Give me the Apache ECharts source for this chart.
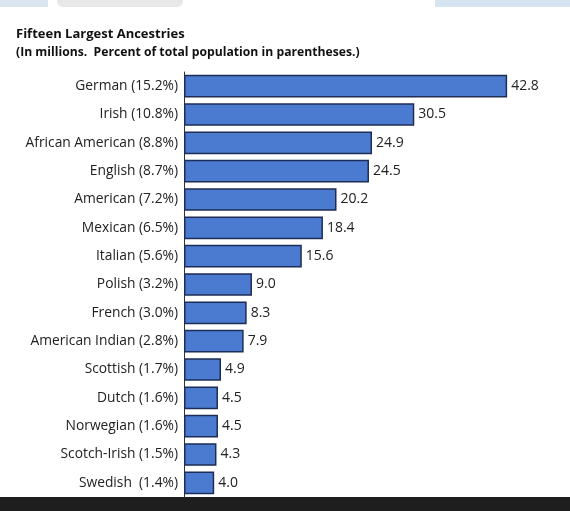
<!DOCTYPE html>
<html><head><meta charset="utf-8">
<script src="https://cdn.jsdelivr.net/npm/echarts@6/dist/echarts.min.js"></script>
<style>html,body{margin:0;padding:0;background:#fff}#c{width:570px;height:511px}</style>
</head><body><div id="c"></div>
<script>
const categories = ["German (15.2%)","Irish (10.8%)","African American (8.8%)","English (8.7%)","American (7.2%)","Mexican (6.5%)","Italian (5.6%)","Polish (3.2%)","French (3.0%)","American Indian (2.8%)","Scottish (1.7%)","Dutch (1.6%)","Norwegian (1.6%)","Scotch-Irish (1.5%)","Swedish  (1.4%)"];
const values = [42.8,30.5,24.9,24.5,20.2,18.4,15.6,9.0,8.3,7.9,4.9,4.5,4.5,4.3,4.0];
const titleText = "Fifteen Largest Ancestries";
const subtitleText = "(In millions.  Percent of total population in parentheses.)";

const chart = echarts.init(document.getElementById('c'), null, {renderer:'canvas'});
const font = '"Open Sans", Lato, sans-serif';
chart.setOption({
  animation:false,
  backgroundColor:'#ffffff',
  title:{
    text:titleText, subtext:subtitleText, left:16, top:28, padding:0, itemGap:6,
    textStyle:{fontFamily:font,fontSize:13,fontWeight:'bold',color:'#111'},
    subtextStyle:{fontFamily:font,fontSize:12.2,fontWeight:'bold',color:'#111'}
  },
  grid:{left:184,top:72,height:425,width:377.5,containLabel:false},
  xAxis:{type:'value',min:0,max:50,show:false},
  yAxis:{type:'category',data:categories,inverse:true,
    axisLine:{show:true,lineStyle:{color:'#333',width:1}},
    axisTick:{show:false},
    axisLabel:{fontFamily:font,fontSize:13.8,color:'#222',margin:6}
  },
  series:[{type:'bar',data:values,barCategoryGap:'20%',
    itemStyle:{color:'#4a7bd0',borderColor:'#1e2d55',borderWidth:1.5},
    label:{show:true,position:'right',distance:4,fontFamily:font,fontSize:14,color:'#222',
      formatter:p=>p.value.toFixed(1)}
  }],
  graphic:[
    {type:'rect',shape:{x:0,y:0,width:48,height:7},style:{fill:'#dbe6f1'}},
    {type:'rect',shape:{x:57,y:-6,width:126,height:13,r:6},style:{fill:'#e8e8e8'}},
    {type:'rect',shape:{x:435,y:0,width:135,height:7},style:{fill:'#d6e4f1'}},
    {type:'rect',shape:{x:0,y:497,width:570,height:14},style:{fill:'#1e1e1e'}}
  ]
});
</script></body></html>
